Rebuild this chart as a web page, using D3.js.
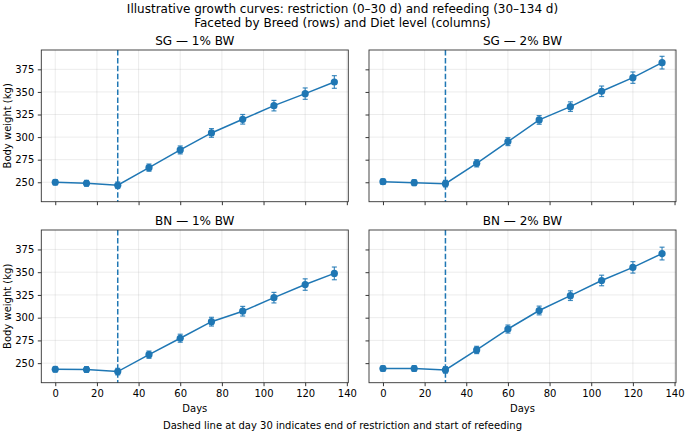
<!DOCTYPE html>
<html>
<head>
<meta charset="utf-8">
<script src="https://cdn.jsdelivr.net/npm/d3@7"></script>
<style>
  body { margin: 0; background: #fff; }
  svg { display: block; font-family: "DejaVu Sans", sans-serif; }
</style>
</head>
<body>
<svg id="chart" width="685" height="433"></svg>
<script>
// ---- Data ----
const days = [0, 15, 30, 45, 60, 75, 90, 105, 120, 134];
const sg1 = [250.0, 248.9, 246.7, 266.2, 285.8, 304.6, 319.7, 334.8, 348.1, 361.0];
const sg2 = [250.7, 249.6, 248.5, 271.0, 295.0, 319.0, 333.7, 350.7, 365.8, 382.4];
const bn1 = [243.3, 243.0, 240.7, 259.3, 277.4, 295.6, 307.1, 322.0, 336.4, 348.7];
const bn2 = [244.1, 244.1, 242.6, 264.5, 287.5, 307.9, 324.2, 340.9, 355.3, 370.5];
const errs = [3.0, 3.2, 3.6, 4.0, 4.4, 4.8, 5.3, 5.8, 6.3, 7.0];
const panelTitles = ["SG — 1% BW", "SG — 2% BW", "BN — 1% BW", "BN — 2% BW"];
const xTicks = [0, 20, 40, 60, 80, 100, 120, 140];
const yTicks = [250, 275, 300, 325, 350, 375];
const restrictionEnd = 30;
const titleLines = ["Illustrative growth curves: restriction (0–30 d) and refeeding (30–134 d)",
                    "Faceted by Breed (rows) and Diet level (columns)"];
const footnote = "Dashed line at day 30 indicates end of restriction and start of refeeding";

// ---- Layout ----
const svg = d3.select("#chart");
const color = "#1f77b4";
const cols = [{x0: 41.3, x1: 348.3}, {x0: 369, x1: 676}];
const rows = [{y0: 50, y1: 201.7}, {y0: 230, y1: 382.7}];
const series = [sg1, sg2, bn1, bn2];

svg.append("text").attr("x", 342.5).attr("y", 13).attr("text-anchor", "middle")
  .attr("font-size", 12).attr("fill", "#000").text(titleLines[0]);
svg.append("text").attr("x", 342.5).attr("y", 27).attr("text-anchor", "middle")
  .attr("font-size", 12).attr("fill", "#000").text(titleLines[1]);

series.forEach((vals, i) => {
  const r = Math.floor(i / 2), c = i % 2;
  const {x0, x1} = cols[c];
  const {y0, y1} = rows[r];
  const x = d3.scaleLinear().domain([-6.7, 140.7]).range([x0, x1]);
  const y = d3.scaleLinear().domain([228.5, 396.4]).range([y1, y0]);
  const g = svg.append("g");

  // grid
  g.selectAll(".gx").data(xTicks).enter().append("line")
    .attr("x1", d => x(d)).attr("x2", d => x(d)).attr("y1", y0).attr("y2", y1)
    .attr("stroke", "#b0b0b0").attr("stroke-opacity", 0.3).attr("stroke-width", 0.8);
  g.selectAll(".gy").data(yTicks).enter().append("line")
    .attr("x1", x0).attr("x2", x1).attr("y1", d => y(d)).attr("y2", d => y(d))
    .attr("stroke", "#b0b0b0").attr("stroke-opacity", 0.3).attr("stroke-width", 0.8);

  // axes
  const xAxis = d3.axisBottom(x).tickValues(xTicks).tickSizeOuter(0).tickSize(3.5).tickPadding(3.5)
    .tickFormat(r === 1 ? d3.format("d") : () => "");
  const yAxis = d3.axisLeft(y).tickValues(yTicks).tickSizeOuter(0).tickSize(3.5).tickPadding(3.5)
    .tickFormat(c === 0 ? d3.format("d") : () => "");
  const gx = g.append("g").attr("transform", `translate(0,${y1})`).call(xAxis);
  const gy = g.append("g").attr("transform", `translate(${x0},0)`).call(yAxis);
  [gx, gy].forEach(a => {
    a.select(".domain").remove();
    a.selectAll(".tick line").attr("stroke", "#000").attr("stroke-width", 0.8);
    a.selectAll(".tick text").attr("font-size", 10).attr("fill", "#000")
      .attr("font-family", "DejaVu Sans, sans-serif");
  });

  // vertical dashed line
  g.append("line").attr("x1", x(restrictionEnd)).attr("x2", x(restrictionEnd))
    .attr("y1", y0).attr("y2", y1).attr("stroke", color).attr("stroke-width", 1.5)
    .attr("stroke-dasharray", "5.5,2.4");

  // line
  const line = d3.line().x((d, k) => x(days[k])).y(d => y(d));
  g.append("path").datum(vals).attr("d", line).attr("fill", "none")
    .attr("stroke", color).attr("stroke-width", 1.5);

  // error bars
  vals.forEach((v, k) => {
    const cx = x(days[k]);
    const ytop = y(v + errs[k]), ybot = y(v - errs[k]);
    g.append("line").attr("x1", cx).attr("x2", cx).attr("y1", ytop).attr("y2", ybot)
      .attr("stroke", color).attr("stroke-width", 1.2).attr("stroke-opacity", 0.85);
    [ytop, ybot].forEach(yy => g.append("line").attr("x1", cx - 2.5).attr("x2", cx + 2.5)
      .attr("y1", yy).attr("y2", yy).attr("stroke", color).attr("stroke-width", 1.2).attr("stroke-opacity", 0.85));
  });

  // markers
  g.selectAll(".pt").data(vals).enter().append("circle")
    .attr("cx", (d, k) => x(days[k])).attr("cy", d => y(d)).attr("r", 3.6).attr("fill", color);

  // frame
  g.append("rect").attr("x", x0).attr("y", y0).attr("width", x1 - x0).attr("height", y1 - y0)
    .attr("fill", "none").attr("stroke", "#333").attr("stroke-width", 0.9);

  // panel title
  g.append("text").attr("x", (x0 + x1) / 2).attr("y", y0 - 5).attr("text-anchor", "middle")
    .attr("font-size", 12).attr("fill", "#000").text(panelTitles[i]);

  if (c === 0) {
    g.append("text").attr("transform", `translate(11,${(y0 + y1) / 2}) rotate(-90)`)
      .attr("text-anchor", "middle").attr("font-size", 10).attr("fill", "#000").text("Body weight (kg)");
  }
  if (r === 1) {
    g.append("text").attr("x", (x0 + x1) / 2).attr("y", 412).attr("text-anchor", "middle")
      .attr("font-size", 10).attr("fill", "#000").text("Days");
  }
});

svg.append("text").attr("x", 342.5).attr("y", 429).attr("text-anchor", "middle")
  .attr("font-size", 10).attr("fill", "#000").text(footnote);
</script>
</body>
</html>
